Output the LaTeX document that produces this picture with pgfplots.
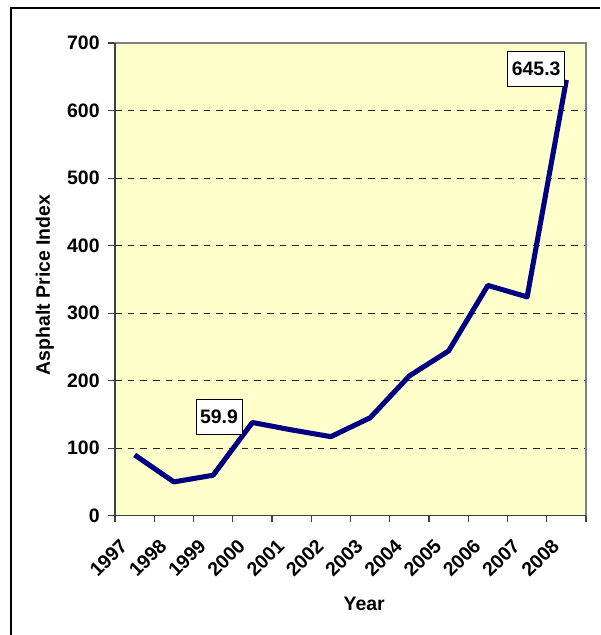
\documentclass[border=0pt]{standalone}
\usepackage{pgfplots}
\pgfplotsset{compat=1.18}
\usepackage{fontspec}
\setmainfont{Liberation Sans}
\definecolor{plotbg}{HTML}{FFFFCC}
\definecolor{navyline}{HTML}{000080}
\newcommand{\lbl}{\fontsize{14.6}{17}\selectfont\bfseries}
\begin{document}
\begin{tikzpicture}
\useasboundingbox (0,0) rectangle (450pt,476.25pt);
\draw[line width=0.9pt] (8.25pt,0) -- (8.25pt,470.25pt) -- (450pt,470.25pt);
\begin{axis}[
  at={(86.25pt,89.5pt)}, anchor=south west,
  scale only axis, width=353.25pt, height=354.5pt,
  xmin=-0.5, xmax=11.5, ymin=0, ymax=700,
  xtick={0,...,11},
  xticklabels={1997,1998,1999,2000,2001,2002,2003,2004,2005,2006,2007,2008},
  minor xtick={-0.5,0.5,...,11.5},
  ytick={0,100,...,700},
  tick pos=left,
  tick align=outside,
  major x tick style={draw=none},
  major tick length=5pt, minor tick length=5pt,
  tick style={black!75, line width=0.8pt},
  ymajorgrids,
  major grid style={black!85, line width=0.7pt, dash pattern=on 5pt off 4.5pt},
  axis line style={gray, line width=1pt},
  axis background/.style={fill=plotbg},
  /pgf/number format/assume math mode=true,
  ticklabel style={font=\lbl},
  yticklabel style={xshift=-3pt},
  xticklabel style={rotate=45, anchor=east, xshift=-13pt, yshift=-5pt},
  xlabel={Year}, ylabel={Asphalt Price Index},
  label style={font=\lbl},
  xlabel style={at={(axis description cs:0.529,-0.187)}, anchor=center},
  ylabel style={at={(axis description cs:-0.149,0.488)}, anchor=center},
  clip=false,
]
\addplot[navyline, line width=3.8pt, line join=round] coordinates {
  (0,90) (1,50) (2,59.9) (3,138) (4,127) (5,117) (6,145)
  (7,207) (8,244) (9,341) (10,324) (11,645.3)
};
\draw[black!75, line width=1pt] (rel axis cs:0,1) -- (rel axis cs:0,0) -- (rel axis cs:1,0);
\node[draw=black, fill=white, font=\lbl, inner xsep=3pt, minimum height=26pt, line width=0.6pt]
  at (axis cs:2.15,146) {59.9};
\node[draw=black, fill=white, font=\lbl, inner xsep=3pt, minimum height=26pt, line width=0.6pt]
  at (axis cs:10.23,661.5) {645.3};
\end{axis}
\end{tikzpicture}
\end{document}
